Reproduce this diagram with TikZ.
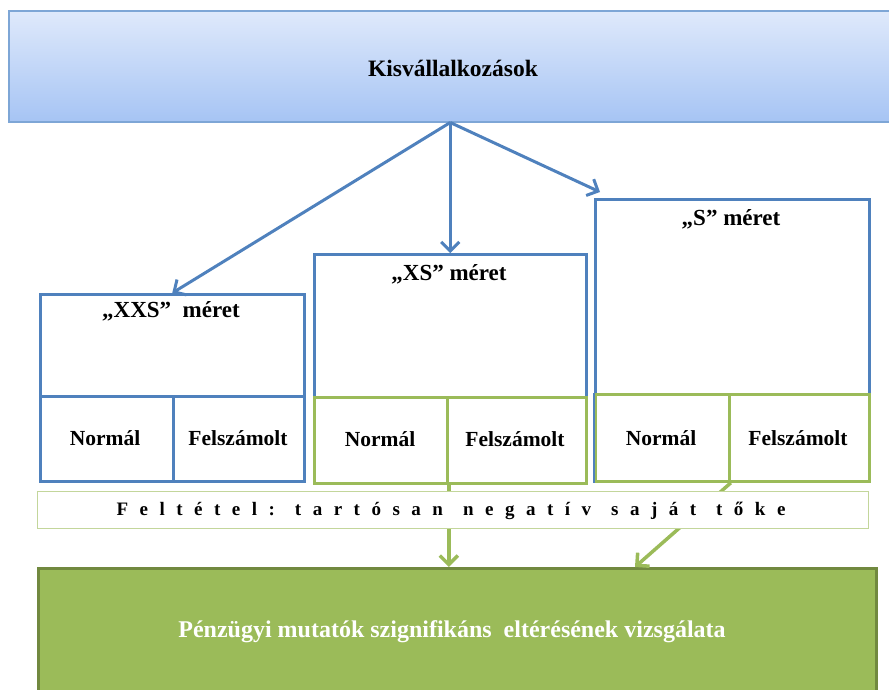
\documentclass[tikz,border=0pt]{standalone}
\usepackage{fontspec}
\setmainfont{Liberation Serif}
\usetikzlibrary{arrows.meta}
\definecolor{ofblue}{HTML}{4F81BD}
\definecolor{ofgreen}{HTML}{9BBB59}
\definecolor{darkgreen}{HTML}{71893F}
\definecolor{lightgreen}{HTML}{C3D69B}
\definecolor{topA}{HTML}{DFE9FB}
\definecolor{topB}{HTML}{A6C4F4}
\definecolor{topborder}{HTML}{7EA6D6}
\newcommand{\gp}{\hspace{11.5pt}}
\newcommand{\wgp}{\hspace{20pt}}
\tikzset{
  bluebox/.style={draw=ofblue, line width=2.5pt, fill=white, inner sep=0pt, anchor=north west},
  greenbox/.style={draw=ofgreen, line width=2.8pt, fill=white, inner sep=0pt, anchor=north west},
  hdr/.style={font=\fontsize{23}{26}\selectfont\bfseries, inner sep=0pt},
  cell/.style={font=\fontsize{21.5}{24}\selectfont\bfseries, inner sep=0pt},
  bluearrow/.style={draw=ofblue, line width=3pt, -{Straight Barb[length=9pt,width=18pt,line width=3pt]}},
  greenarrow/.style={draw=ofgreen, line width=3.5pt, -{Straight Barb[length=9pt,width=18pt,line width=3.5pt]}}
}
\begin{document}
\begin{tikzpicture}[x=1pt,y=-1pt]
\useasboundingbox (0,0) rectangle (889,689);
\clip (0,0) rectangle (889,689);
% top box
\node[anchor=north west, minimum width=887pt, minimum height=111pt, inner sep=0pt,
      draw=topborder, line width=1.5pt, top color=topA, bottom color=topB] (top) at (8,10) {};
\node[font=\fontsize{23.5}{26}\selectfont\bfseries, inner sep=0pt] (toptxt) at (453,68) {Kisvállalkozások};
% XXS
\node[bluebox, minimum width=264pt, minimum height=102pt] (xxs) at (39,293) {};
\node[bluebox, minimum width=133pt, minimum height=85pt] (xxsn) at (39,395) {};
\node[bluebox, minimum width=131pt, minimum height=85pt] (xxsf) at (172,395) {};
\node[hdr] (xxst) at (171,311) {„XXS”\ \ méret};
\node[cell] (xxsnt) at (105,438) {Normál};
\node[cell] (xxsft) at (238,438) {Felszámolt};
% XS
\node[bluebox, minimum width=272pt, minimum height=143pt] (xs) at (313,253) {};
\node[greenbox, minimum width=133pt, minimum height=86pt] (xsn) at (313,396) {};
\node[greenbox, minimum width=139pt, minimum height=86pt] (xsf) at (446,396) {};
\node[hdr] (xst) at (449,274) {„XS” méret};
\node[cell] (xsnt) at (380,439) {Normál};
\node[cell] (xsft) at (515,439) {Felszámolt};
% S
\node[bluebox, minimum width=274pt, minimum height=195pt] (s) at (594,198) {};
\node[greenbox, minimum width=134pt, minimum height=87pt] (sn) at (594,393) {};
\node[greenbox, minimum width=140pt, minimum height=87pt] (sf) at (728,393) {};
\draw[ofblue, line width=2.5pt] (sn.north west) -- (sn.south west);
\node[hdr] (st) at (731,219) {„S” méret};
\node[cell] (snt) at (661,438) {Normál};
\node[cell] (sft) at (798,438) {Felszámolt};
% blue arrows
\draw[bluearrow] (top.south -| xs.north) -- (xxs.north);
\draw[bluearrow] (top.south -| xs.north) -- (xs.north);
\draw[bluearrow] (top.south -| xs.north) -- ([shift={(6,-6)}]s.north west);
% bottom box
\node[anchor=north west, minimum width=838pt, minimum height=135pt, inner sep=0pt,
      draw=darkgreen, line width=2.5pt, fill=ofgreen] (bot) at (37,567) {};
\node[font=\fontsize{24}{27}\selectfont\bfseries, text=white, inner sep=0pt] (bottxt) at (452,632)
  {Pénzügyi mutatók szignifikáns\ \ eltérésének vizsgálata};
% green arrows
\draw[greenarrow] (xsn.south east) -- (xsn.south east |- bot.north);
\draw[greenarrow] (sn.south east) -- (635,567);
% condition box
\node[anchor=north west, minimum width=831pt, minimum height=37pt, inner sep=0pt,
      draw=lightgreen, line width=1.2pt, fill=white] (cond) at (37,491) {};
\node[font=\fontsize{19}{21}\selectfont\bfseries, inner sep=0pt] (condtxt) at (451,511)
  {F\gp e\gp l\gp t\gp é\gp t\gp e\gp l\gp :\wgp t\gp a\gp r\gp t\gp ó\gp s\gp a\gp n\wgp n\gp e\gp g\gp a\gp t\gp í\gp v\wgp s\gp a\gp j\gp á\gp t\wgp t\gp ő\gp k\gp e};
\end{tikzpicture}
\end{document}
